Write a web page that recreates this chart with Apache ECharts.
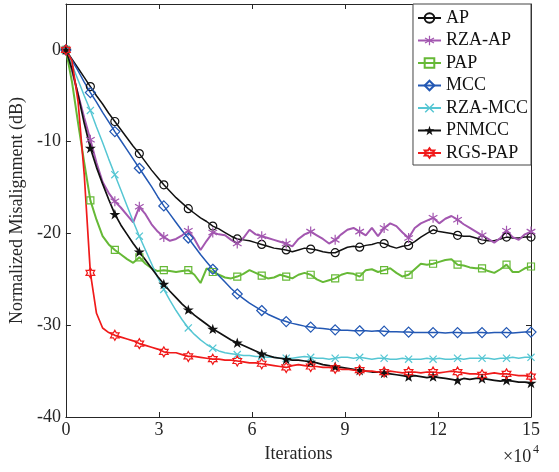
<!DOCTYPE html>
<html>
<head>
<meta charset="utf-8">
<script src="https://cdn.jsdelivr.net/npm/echarts@6/dist/echarts.min.js"></script>
<style>html,body{margin:0;padding:0;background:#fff}#c{width:559px;height:472px}</style>
</head>
<body>
<div id="c"></div>
<script>
// Iterations (x 10^4)
const xs = [0, 0.1974, 0.3947, 0.5921, 0.7895, 0.9868, 1.1842, 1.3816, 1.5789, 1.7763, 1.9737, 2.1711,
  2.3684, 2.5658, 2.7632, 2.9605, 3.1579, 3.3553, 3.5526, 3.75, 3.9474, 4.1447, 4.3421, 4.5395,
  4.7368, 4.9342, 5.1316, 5.3289, 5.5263, 5.7237, 5.9211, 6.1184, 6.3158, 6.5132, 6.7105, 6.9079,
  7.1053, 7.3026, 7.5, 7.6974, 7.8947, 8.0921, 8.2895, 8.4868, 8.6842, 8.8816, 9.0789, 9.2763,
  9.4737, 9.6711, 9.8684, 10.0658, 10.2632, 10.4605, 10.6579, 10.8553, 11.0526, 11.25, 11.4474, 11.6447,
  11.8421, 12.0395, 12.2368, 12.4342, 12.6316, 12.8289, 13.0263, 13.2237, 13.4211, 13.6184, 13.8158, 14.0132,
  14.2105, 14.4079, 14.6053, 14.8026, 15];

const ap = [0, -1.0, -2.0, -3.0, -4.0, -5.0, -5.9, -6.9, -7.8, -8.7, -9.6, -10.5,
  -11.3, -12.2, -13.1, -13.9, -14.7, -15.4, -16.1, -16.7, -17.3, -17.8, -18.3, -18.7,
  -19.2, -19.5, -19.9, -20.3, -20.6, -20.7, -20.8, -21.0, -21.2, -21.4, -21.6, -21.7,
  -21.8, -22.0, -21.8, -21.6, -21.7, -21.8, -22.0, -22.1, -22.1, -21.8, -21.5, -21.4,
  -21.5, -21.3, -21.2, -21.0, -21.1, -21.4, -21.6, -21.4, -21.3, -20.9, -20.4, -20.0,
  -19.6, -19.8, -19.9, -20.0, -20.2, -20.3, -20.3, -20.5, -20.7, -20.8, -20.8, -20.6,
  -20.4, -20.5, -20.5, -20.4, -20.4];

const rzaAp = [0, -2.3, -4.9, -7.4, -9.8, -12.3, -14.4, -15.6, -16.5, -17.2, -18.0, -18.8,
  -17.1, -17.9, -19.0, -19.8, -20.4, -20.8, -20.6, -20.2, -19.7, -20.6, -21.8, -20.8,
  -19.9, -20.1, -20.2, -20.7, -21.1, -20.5, -19.6, -20.1, -20.3, -20.5, -20.7, -20.9,
  -21.1, -21.4, -20.6, -20.1, -19.8, -20.2, -20.6, -21.1, -20.7, -20.1, -19.6, -19.4,
  -19.8, -20.2, -19.4, -20.3, -19.4, -18.9, -19.2, -19.9, -20.5, -19.4, -18.9, -18.6,
  -18.3, -18.9, -18.4, -18.1, -18.5, -19.0, -19.4, -19.8, -20.2, -20.6, -21.0, -20.5,
  -19.7, -20.4, -20.7, -20.1, -19.8];

const pap = [0, -3.5, -8.0, -12.3, -16.4, -18.5, -20.3, -21.2, -21.8, -22.3, -22.8, -23.2,
  -22.6, -23.3, -23.8, -24.1, -24.0, -24.1, -24.2, -24.1, -24.0, -24.5, -25.4, -23.8,
  -24.2, -24.5, -24.8, -24.9, -24.7, -24.4, -24.0, -24.3, -24.6, -24.9, -24.8, -24.5,
  -24.7, -24.9, -24.5, -24.3, -24.5, -25.0, -25.3, -25.1, -24.9, -24.5, -24.3, -24.4,
  -24.7, -24.0, -23.9, -24.2, -24.0, -23.8, -24.3, -24.7, -24.5, -23.9, -23.3, -23.4,
  -23.3, -23.1, -22.9, -22.8, -23.4, -23.5, -23.7, -23.8, -23.8, -24.1, -24.3, -23.9,
  -23.4, -24.2, -24.2, -23.8, -23.6];

const mcc = [0, -1.15, -2.3, -3.5, -4.65, -5.7, -6.8, -7.85, -8.9, -9.9, -10.9, -11.9,
  -12.9, -13.9, -14.9, -16.0, -17.0, -17.9, -18.8, -19.7, -20.5, -21.4, -22.3, -23.1,
  -23.9, -24.6, -25.3, -26.0, -26.6, -27.1, -27.6, -28.0, -28.4, -28.8, -29.1, -29.4,
  -29.6, -29.8, -29.95, -30.1, -30.2, -30.3, -30.35, -30.45, -30.5, -30.55, -30.55, -30.6,
  -30.6, -30.6, -30.65, -30.6, -30.65, -30.7, -30.7, -30.75, -30.75, -30.8, -30.8, -30.8,
  -30.8, -30.8, -30.85, -30.8, -30.8, -30.85, -30.85, -30.8, -30.8, -30.85, -30.8, -30.8,
  -30.8, -30.85, -30.8, -30.75, -30.75];

const rzaMcc = [0, -1.6, -3.3, -5.0, -6.6, -8.4, -10.1, -11.9, -13.6, -15.3, -17.0, -18.7,
  -20.3, -21.8, -23.3, -24.8, -26.1, -27.3, -28.4, -29.4, -30.3, -31.0, -31.6, -32.1,
  -32.5, -32.8, -33.0, -33.1, -33.2, -33.3, -33.3, -33.4, -33.4, -33.5, -33.5, -33.6,
  -33.6, -33.6, -33.5, -33.4, -33.5, -33.6, -33.6, -33.7, -33.6, -33.5, -33.5, -33.6,
  -33.5, -33.6, -33.7, -33.6, -33.6, -33.7, -33.7, -33.6, -33.7, -33.7, -33.7, -33.6,
  -33.7, -33.6, -33.7, -33.7, -33.6, -33.7, -33.6, -33.6, -33.6, -33.6, -33.7, -33.6,
  -33.6, -33.5, -33.6, -33.5, -33.5];

const pnmcc = [0, -2.1, -4.9, -8.0, -10.7, -12.8, -14.6, -16.3, -17.9, -19.1, -20.1, -21.1,
  -22.0, -22.9, -23.8, -24.7, -25.5, -26.3, -27.0, -27.7, -28.3, -28.9, -29.4, -29.9,
  -30.4, -30.8, -31.2, -31.6, -31.9, -32.2, -32.5, -32.8, -33.1, -33.3, -33.5, -33.6,
  -33.7, -33.8, -33.8, -33.9, -34.0, -34.1, -34.3, -34.4, -34.5, -34.6, -34.7, -34.8,
  -34.9, -35.0, -35.1, -35.1, -35.2, -35.3, -35.4, -35.5, -35.6, -35.5, -35.6, -35.7,
  -35.6, -35.7, -35.8, -35.9, -36.0, -35.8, -35.9, -35.8, -35.8, -35.9, -36.0, -36.1,
  -36.0, -36.1, -36.2, -36.2, -36.3];

const rgsPap = [0, -1.2, -5.7, -13.6, -24.3, -28.7, -30.3, -30.8, -31.1, -31.3, -31.5, -31.7,
  -32.0, -32.2, -32.4, -32.6, -32.9, -33.0, -33.0, -33.2, -33.4, -33.4, -33.5, -33.6,
  -33.7, -33.7, -33.8, -33.8, -33.9, -34.0, -34.1, -34.1, -34.2, -34.3, -34.4, -34.5,
  -34.6, -34.4, -34.3, -34.4, -34.5, -34.5, -34.6, -34.6, -34.7, -34.8, -34.8, -34.9,
  -34.9, -35.0, -35.0, -35.1, -35.1, -35.0, -35.1, -35.2, -35.1, -35.1, -35.2, -35.1,
  -35.1, -35.2, -35.1, -35.0, -35.1, -35.2, -35.3, -35.3, -35.4, -35.3, -35.2, -35.3,
  -35.3, -35.4, -35.5, -35.5, -35.6];

const names = ['AP', 'RZA-AP', 'PAP', 'MCC', 'RZA-MCC', 'PNMCC', 'RGS-PAP'];
const xTicks = [0, 3, 6, 9, 12, 15];
const yTicks = [-40, -30, -20, -10, 0];

const FONT = '"Liberation Serif", "Times New Roman", serif';
const AX = '#262626';

const SYM = {
  asterisk: 'path://M-0.12,-1L0.12,-1L0.12,1L-0.12,1Z M-0.926,-0.396L-0.806,-0.604L0.926,0.396L0.806,0.604Z M0.806,-0.604L0.926,-0.396L-0.806,0.604L-0.926,0.396Z',
  cross: 'path://M-0.792,-0.622L-0.622,-0.792L0.792,0.622L0.622,0.792Z M0.622,-0.792L0.792,-0.622L-0.622,0.792L-0.792,0.622Z',
  star5: 'path://M0,-1L0.225,-0.309L0.951,-0.309L0.363,0.118L0.588,0.809L0,0.382L-0.588,0.809L-0.363,0.118L-0.951,-0.309L-0.225,-0.309Z',
  star6: 'path://M0,-1L0.289,-0.5L0.866,-0.5L0.577,0L0.866,0.5L0.289,0.5L0,1L-0.289,0.5L-0.866,0.5L-0.577,0L-0.866,-0.5L-0.289,-0.5Z'
};

function mk(name, ys, color, symbol, size, hollow, lw) {
  return {
    name: name, type: 'line', xAxisIndex: 0, yAxisIndex: 0,
    symbol: symbol, symbolSize: size, symbolKeepAspect: true, showAllSymbol: true,
    lineStyle: { color: color, width: lw },
    itemStyle: hollow ? { color: 'rgba(255,255,255,0)', borderColor: color, borderWidth: 1.2 }
                      : { color: color, borderWidth: 0 },
    emphasis: { disabled: true },
    animation: false,
    data: xs.map((x, i) => i % 4 === 0 ? [x, ys[i]] : { value: [x, ys[i]], symbol: 'none' })
  };
}

const chart = echarts.init(document.getElementById('c'), null, { renderer: 'canvas' });

const axisLineStyle = { color: AX, width: 1 };
const option = {
  backgroundColor: '#fff',
  animation: false,
  grid: { left: 63, top: 4, width: 468, height: 413, containLabel: false },
  legend: {
    orient: 'vertical', right: 28, top: 4,
    padding: [5, 3, 3, 4], itemWidth: 23, itemHeight: 12, itemGap: 4.5,
    borderColor: '#444', borderWidth: 1, backgroundColor: '#fff',
    textStyle: { fontFamily: FONT, fontSize: 18, color: '#111', lineHeight: 18 },
    data: names
  },
  xAxis: [{
    type: 'value', min: 0, max: 15, interval: 3, position: 'bottom',
    axisLine: { show: true, onZero: false, lineStyle: axisLineStyle },
    axisTick: { show: true, inside: true, length: 5, lineStyle: axisLineStyle, customValues: xTicks },
    axisLabel: { margin: 4, fontSize: 18, color: AX, fontFamily: FONT, customValues: xTicks },
    splitLine: { show: false },
    name: 'Iterations', nameLocation: 'middle', nameGap: 28,
    nameTextStyle: { fontSize: 18, color: AX, fontFamily: FONT }
  }, {
    type: 'value', min: 0, max: 15, interval: 3, position: 'top',
    axisLine: { show: true, onZero: false, lineStyle: axisLineStyle },
    axisTick: { show: true, inside: true, length: 5, lineStyle: axisLineStyle, customValues: xTicks },
    axisLabel: { show: false }, splitLine: { show: false }
  }],
  yAxis: [{
    type: 'value', min: -40, max: 5, interval: 10, position: 'left',
    axisLine: { show: true, onZero: false, lineStyle: axisLineStyle },
    axisTick: { show: true, inside: true, length: 5, lineStyle: axisLineStyle, customValues: yTicks },
    axisLabel: { margin: 5, fontSize: 18, color: AX, fontFamily: FONT, customValues: yTicks },
    splitLine: { show: false },
    name: 'Normalized Misalignment (dB)', nameLocation: 'middle', nameGap: 29, nameRotate: 90,
    nameTextStyle: { fontSize: 18, color: AX, fontFamily: FONT }
  }, {
    type: 'value', min: -40, max: 5, interval: 10, position: 'right',
    axisLine: { show: true, onZero: false, lineStyle: axisLineStyle },
    axisTick: { show: true, inside: true, length: 5, lineStyle: axisLineStyle, customValues: yTicks },
    axisLabel: { show: false }, splitLine: { show: false }
  }],
  graphic: [
    { type: 'text', left: 503, top: 448, style: { text: '×10', font: '18px ' + FONT, fill: AX } },
    { type: 'text', left: 533, top: 444, style: { text: '4', font: '12px ' + FONT, fill: AX } }
  ],
  series: [
    mk(names[0], ap, '#111111', 'circle', 8, true, 1.5),
    mk(names[1], rzaAp, '#a357b0', SYM.asterisk, 10, false, 2),
    mk(names[2], pap, '#66b936', 'rect', 7, true, 2),
    mk(names[3], mcc, '#2358b4', 'diamond', 10, true, 1.5),
    mk(names[4], rzaMcc, '#55c6d3', SYM.cross, 8, false, 1.5),
    mk(names[5], pnmcc, '#111111', SYM.star5, 11, false, 1.7),
    mk(names[6], rgsPap, '#f01a1a', SYM.star6, 10, true, 1.7)
  ]
};
chart.setOption(option);
</script>
</body>
</html>
